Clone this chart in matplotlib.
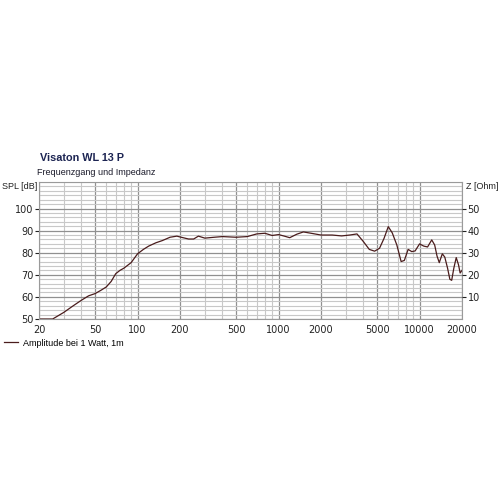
import matplotlib
matplotlib.use("Agg")
import matplotlib.pyplot as plt
from matplotlib.ticker import FixedLocator, NullFormatter, LogLocator

freq_hz = [20, 25, 30, 35, 40, 45, 50, 55, 60, 65, 70, 75, 80, 90, 100, 110, 120,
           135, 150, 170, 190, 210, 230, 250, 270, 300, 350, 400, 500, 600, 700,
           800, 900, 1000, 1100, 1200, 1350, 1500, 1700, 2000, 2400, 2800, 3200,
           3600, 4000, 4400, 4800, 5200, 5600, 6000, 6400, 6900, 7400, 7800, 8300,
           8800, 9300, 10000, 10700, 11400, 12200, 12800, 13300, 13800, 14500,
           15100, 15800, 16400, 16900, 17500, 18200, 18900, 19400, 20000]
spl_db = [50, 50, 53, 56, 58.5, 60.5, 61.5, 63, 64.5, 67, 70.5, 72, 73, 75.5, 79.5,
          81.5, 83, 84.5, 85.5, 87, 87.5, 86.8, 86.2, 86.2, 87.5, 86.6, 87, 87.3,
          87, 87.3, 88.5, 88.8, 87.8, 88.2, 87.5, 86.8, 88.4, 89.4, 88.8, 88, 88,
          87.6, 88, 88.5, 85, 81.5, 80.7, 82, 86.5, 91.8, 89, 83.5, 76, 76.5, 81.5,
          80.5, 80.8, 84, 83, 82.6, 85.8, 83.5, 78.5, 75.5, 79.5, 78, 73, 68, 67.5,
          73, 77.8, 74.5, 70.8, 72]

x_ticks = [20, 50, 100, 200, 500, 1000, 2000, 5000, 10000, 20000]
x_labels = ["20", "50", "100", "200", "500", "1000", "2000", "5000", "10000", "20000"]
spl_ticks = [50, 60, 70, 80, 90, 100]
z_ticks = [10, 20, 30, 40, 50]

title = "Visaton WL 13 P"
subtitle = "Frequenzgang und Impedanz"
legend_label = "Amplitude bei 1 Watt, 1m"

plt.rcParams['font.family'] = ['DejaVu Sans']
fig = plt.figure(figsize=(5, 5), dpi=100)
ax = fig.add_axes([0.078, 0.362, 0.846, 0.274])

ax.set_xscale('log')
ax.set_xlim(20, 20000)
ax.set_ylim(50, 112)

ax.xaxis.set_major_locator(FixedLocator(x_ticks))
ax.set_xticklabels(x_labels)
ax.xaxis.set_minor_locator(LogLocator(base=10, subs=range(1, 10)))
ax.xaxis.set_minor_formatter(NullFormatter())
ax.yaxis.set_major_locator(FixedLocator(spl_ticks))
ax.yaxis.set_minor_locator(FixedLocator(list(range(50, 113, 2))))

ax.grid(which='minor', color='#c8c8c8', linewidth=0.8)
ax.grid(which='major', color='#909090', linewidth=0.9)
ax.set_axisbelow(True)

for s in ax.spines.values():
    s.set_color('#9a9a9a')
    s.set_linewidth(0.8)

ax.tick_params(axis='x', which='both', length=0, labelsize=7, pad=4, colors='#222222')
ax.tick_params(axis='y', which='major', length=3, labelsize=7, colors='#222222', pad=1)
ax.tick_params(axis='y', which='minor', length=0)

line, = ax.plot(freq_hz, spl_db, color='#4a1c1c', linewidth=0.9)

ax2 = ax.twinx()
ax2.set_ylim(0, 62)
ax2.yaxis.set_major_locator(FixedLocator(z_ticks))
ax2.tick_params(axis='y', length=3, labelsize=7, colors='#222222', pad=1)
for s in ax2.spines.values():
    s.set_visible(False)

lab = ['Liberation Sans', 'DejaVu Sans']
fig.text(0.079, 0.678, title, fontsize=7.8, fontweight='bold', color='#1c2452', family=lab)
fig.text(0.074, 0.650, subtitle, fontsize=6.5, color='#1a1a2a', family=lab)
fig.text(0.004, 0.622, "SPL [dB]", fontsize=6.5, color='#222222', family=lab)
fig.text(0.933, 0.622, "Z [Ohm]", fontsize=6.5, color='#222222', family=lab)

fig.legend([line], [legend_label], loc='upper left', bbox_to_anchor=(0.0, 0.33),
           frameon=False, prop={'family': lab, 'size': 6.5}, handlelength=1.6,
           handletextpad=0.5, borderaxespad=0)

fig.savefig("out.png", dpi=100, facecolor='white')
